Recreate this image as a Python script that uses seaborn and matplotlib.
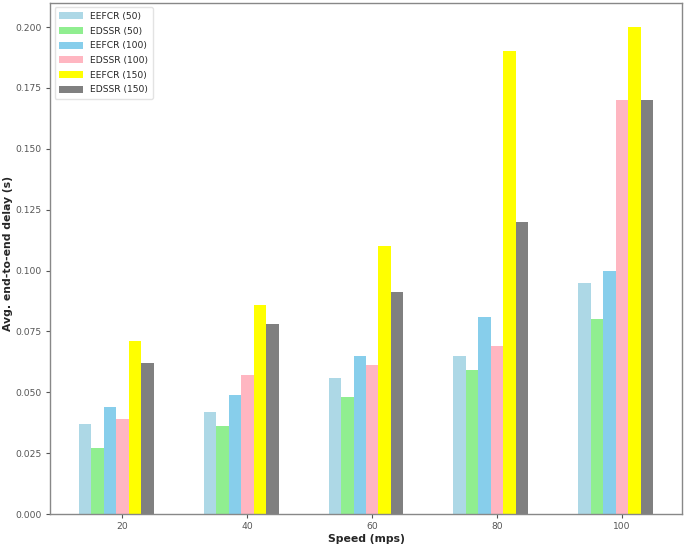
import numpy as np
import pandas as pd
import matplotlib
matplotlib.use("Agg")
import matplotlib.pyplot as plt
import seaborn as sns

speeds = [20, 40, 60, 80, 100]
series_names = ["EEFCR (50)", "EDSSR (50)", "EEFCR (100)", "EDSSR (100)", "EEFCR (150)", "EDSSR (150)"]
eefcr_50 = [0.037, 0.042, 0.056, 0.065, 0.095]
edssr_50 = [0.027, 0.036, 0.048, 0.059, 0.080]
eefcr_100 = [0.044, 0.049, 0.065, 0.081, 0.100]
edssr_100 = [0.039, 0.057, 0.061, 0.069, 0.170]
eefcr_150 = [0.071, 0.086, 0.110, 0.190, 0.200]
edssr_150 = [0.062, 0.078, 0.091, 0.120, 0.170]
colors = ["lightblue", "lightgreen", "skyblue", "lightpink", "yellow", "gray"]

series_values = [eefcr_50, edssr_50, eefcr_100, edssr_100, eefcr_150, edssr_150]
bar_w = 2  # data units
rows = []
for i, (name, vals) in enumerate(zip(series_names, series_values)):
    for s, v in zip(speeds, vals):
        rows.append({"pos": s + (i - 3) * bar_w, "delay": v, "series": name})
df = pd.DataFrame(rows)

sns.set_style("white")
fig = plt.figure(figsize=(6.85, 5.46), dpi=100)
ax = fig.add_axes([0.073, 0.0586, 0.9226, 0.9364])

sns.barplot(data=df, x="pos", y="delay", hue="series", hue_order=series_names,
            palette=colors, native_scale=True, dodge=False, width=1.0,
            saturation=1, errorbar=None, linewidth=0, ax=ax)

ax.set_xticks(speeds)
ax.set_xticklabels([str(s) for s in speeds])
yt = np.arange(0, 0.2001, 0.025)
ax.set_yticks(yt)
ax.set_yticklabels([f"{t:.3f}" for t in yt])
ax.set_ylim(0, 0.21)
ax.set_xlim(8.4, 109.6)
ax.tick_params(axis="both", labelsize=6.6, colors="#555555", length=3, width=0.8,
               bottom=True, left=True, pad=3)
for sp in ax.spines.values():
    sp.set_color("#888888")
    sp.set_linewidth(1.0)

ax.set_xlabel("Speed (mps)", fontsize=7.8, fontweight="bold", labelpad=2)
ax.set_ylabel("Avg. end-to-end delay (s)", fontsize=7.8, fontweight="bold")
ax.yaxis.set_label_coords(-0.058, 0.51)

leg = ax.legend(loc="upper left", fontsize=6.6, frameon=True, title=None,
                borderaxespad=0.5, handlelength=2.6, handleheight=0.8,
                labelspacing=0.62, borderpad=0.5)
leg.get_frame().set_edgecolor("#dddddd")

fig.savefig("out.png", dpi=100)
